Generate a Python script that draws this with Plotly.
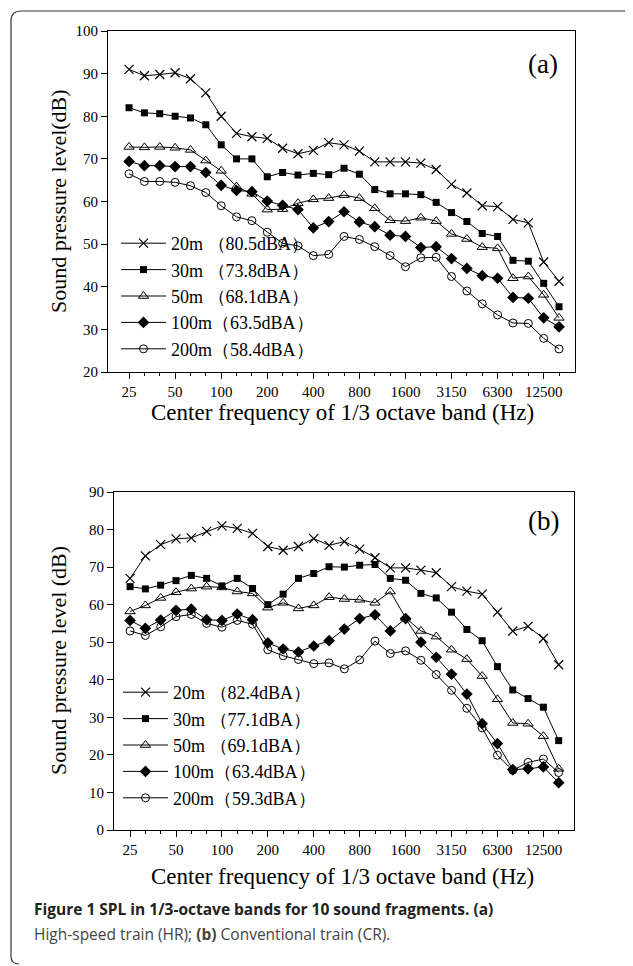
import plotly.graph_objects as go

freqs = ["25","31.5","40","50","63","80","100","125","160","200","250","315","400","500","630","800",
         "1000","1250","1600","2000","2500","3150","4000","5000","6300","8000","10000","12500","16000"]
tick_labels = ["25","50","100","200","400","800","1600","3150","6300","12500"]

a_names = ["20m （80.5dBA）", "30m （73.8dBA）", "50m （68.1dBA）", "100m（63.5dBA）", "200m（58.4dBA）"]
a_20 = [91,89.5,89.8,90.2,88.8,85.5,80,76,75.2,74.8,72.5,71.2,72,73.8,73.3,71.8,69.3,69.3,69.3,69,67.5,64,62,59,58.8,55.8,55,45.8,41.3]
a_30 = [82,80.8,80.6,80,79.6,78,73.3,70,70,65.8,66.8,66.2,66.6,66.3,67.8,66.4,62.8,61.8,61.8,61.6,59.8,57.4,55.3,52.5,51.8,46.2,46,40.8,35.3]
a_50 = [72.8,72.7,72.8,72.6,72.1,69.6,67.2,63.5,61.8,58.1,58.2,59.6,60.5,60.8,61.5,60.8,58.4,55.6,55.4,56.2,55.4,52.4,51.2,49.3,49,42,42.4,38.1,32.7]
a_100 = [69.4,68.4,68.4,68.2,68.2,66.8,63.8,62.6,62.3,60.1,59.1,58.1,53.8,55.3,57.6,55.2,54.1,52.1,51.8,49.2,49.4,46.6,44.3,42.6,42,37.5,37.3,32.7,30.6]
a_200 = [66.5,64.7,64.7,64.5,63.7,62.1,59,56.4,55.5,52.8,50.2,49.6,47.3,47.6,51.8,51.1,49.4,47.3,44.7,46.8,46.9,42.4,39,36,33.4,31.5,31.4,27.9,25.4]

b_names = ["20m （82.4dBA）", "30m （77.1dBA）", "50m （69.1dBA）", "100m（63.4dBA）", "200m（59.3dBA）"]
b_20 = [67,73,76,77.5,77.8,79.5,81,80.3,79,75.5,74.5,75.5,77.6,75.8,76.8,74.8,72.5,69.8,69.8,69.2,68.5,64.8,63.6,62.8,58,53,54.2,51,44]
b_30 = [64.8,64.2,65.2,66.4,67.8,67,65,67,64.3,60,62.8,67,68.3,70.1,70,70.5,70.7,67,66.5,63,61.8,58,53.4,50.4,43.5,37.3,35,32.7,23.8]
b_50 = [58.2,59.8,61.8,63.3,64.3,64.8,64.6,63.5,63,59.2,60.5,59,59.8,62,61.5,61.3,60.5,63.5,56.5,53,51.5,48,45.5,41,34.8,28.5,28.3,25,16.3]
b_100 = [55.8,53.7,55.9,58.5,58.8,56,55.8,57.5,56,49.8,48.2,47.4,49,50.4,53.5,56.3,57.3,53,56.3,50,46,41.5,36.2,28.3,23,16.1,16.3,16.8,12.6]
b_200 = [53,51.8,54.1,56.8,57.4,55,54,55.8,54.8,48,46.4,45.4,44.3,44.5,42.9,45.3,50.3,47,47.7,45.2,41.4,37.2,32.4,27.2,19.9,15.9,18,18.9,15.3]

markers = [dict(symbol="x-thin-open", size=9, line=dict(width=1.2, color="black")),
           dict(symbol="square", size=7, color="black"),
           dict(symbol="triangle-up-open", size=9, color="black", line=dict(width=1, color="black")),
           dict(symbol="diamond", size=9, color="black"),
           dict(symbol="circle-open", size=8, color="black", line=dict(width=1, color="black"))]

W, H = 633, 966
DY = -7  # compensation for page offset
DX = 0
def py(y):
    return 1 - (y + DY) / H
def px(x):
    return (x + DX) / W

xi = list(range(len(freqs)))
fig = go.Figure()
for name, ys, m in zip(a_names, [a_20, a_30, a_50, a_100, a_200], markers):
    fig.add_trace(go.Scatter(x=xi, y=ys, name=name, mode="lines+markers", line=dict(color="black", width=1),
                             marker=m, xaxis="x", yaxis="y", legend="legend"))
for name, ys, m in zip(b_names, [b_20, b_30, b_50, b_100, b_200], markers):
    fig.add_trace(go.Scatter(x=xi, y=ys, name=name, mode="lines+markers", line=dict(color="black", width=1),
                             marker=m, xaxis="x2", yaxis="y2", legend="legend2"))

serif = "Liberation Serif"
tickvals = [freqs.index(t) for t in tick_labels]
ax_common = dict(showline=True, linecolor="black", linewidth=1, mirror=True, ticks="outside",
                 ticklen=6, tickcolor="black", showgrid=False, zeroline=False, automargin=False,
                 tickfont=dict(family=serif, size=15, color="black"))
xcommon = dict(ax_common, tickvals=tickvals, ticktext=tick_labels,
               minor=dict(tickvals=xi, ticks="outside", ticklen=3, tickcolor="black"))

legfont = dict(family=serif, size=18, color="black")
fig.update_layout(
    width=W, height=H, margin=dict(l=0, r=0, t=0, b=0, autoexpand=False),
    paper_bgcolor="white", plot_bgcolor="white", showlegend=True,
    xaxis=dict(xcommon, domain=[px(100), px(567)], range=[-1.37, 29.04], anchor="y"),
    yaxis=dict(ax_common, domain=[py(371), py(30)], range=[20, 100], dtick=10, anchor="x"),
    xaxis2=dict(xcommon, domain=[px(106), px(566)], range=[-1.05, 29.0], anchor="y2"),
    yaxis2=dict(ax_common, domain=[py(829), py(491)], range=[0, 90], dtick=10, anchor="x2"),
    legend=dict(x=px(108), y=py(366), xanchor="left", yanchor="bottom",
                bgcolor="rgba(0,0,0,0)", font=legfont, tracegroupgap=0, itemwidth=45),
    legend2=dict(x=px(110), y=py(815), xanchor="left", yanchor="bottom",
                 bgcolor="rgba(0,0,0,0)", font=legfont, tracegroupgap=0, itemwidth=45),
)

def ann(text, x, y, size, xanchor="center", angle=0, family=serif, color="black"):
    fig.add_annotation(text=text, x=px(x), y=py(y), xref="paper", yref="paper", xanchor=xanchor,
                       yanchor="middle", textangle=angle, showarrow=False,
                       font=dict(family=family, size=size, color=color))

ann("(a)", 535, 63, 27)
ann("(b)", 535, 520, 27)
ann("Sound pressure level(dB)", 50, 200, 22, angle=-90)
ann("Sound pressure level (dB)", 50, 660, 22, angle=-90)
ann("Center frequency of 1/3 octave band (Hz)", 334, 412, 23)
ann("Center frequency of 1/3 octave band (Hz)", 334, 875, 23)
ann("<b>Figure 1 SPL in 1/3-octave bands for 10 sound fragments. (a)</b>", 24, 908, 15.5,
    xanchor="left", family="Open Sans", color="#222")
ann("High-speed train (HR); <b>(b)</b> Conventional train (CR).", 24, 933, 15.5,
    xanchor="left", family="Open Sans", color="#444")

fig.add_shape(type="path", xref="paper", yref="paper",
              path=f"M {px(3)},{py(480)} L {px(3)},{py(20)} Q {px(3)},{py(10)} {px(13)},{py(10)} "
                   f"L {px(616)},{py(10)} Q {px(626)},{py(10)} {px(626)},{py(20)} L {px(626)},{py(960)}",
              line=dict(color="#333", width=1.2))
fig.add_shape(type="path", xref="paper", yref="paper",
              path=f"M {px(3)},{py(480)} L {px(3)},{py(955)} Q {px(3)},{py(963)} {px(11)},{py(963)}",
              line=dict(color="#333", width=1.2))
fig.write_html("out.html")
